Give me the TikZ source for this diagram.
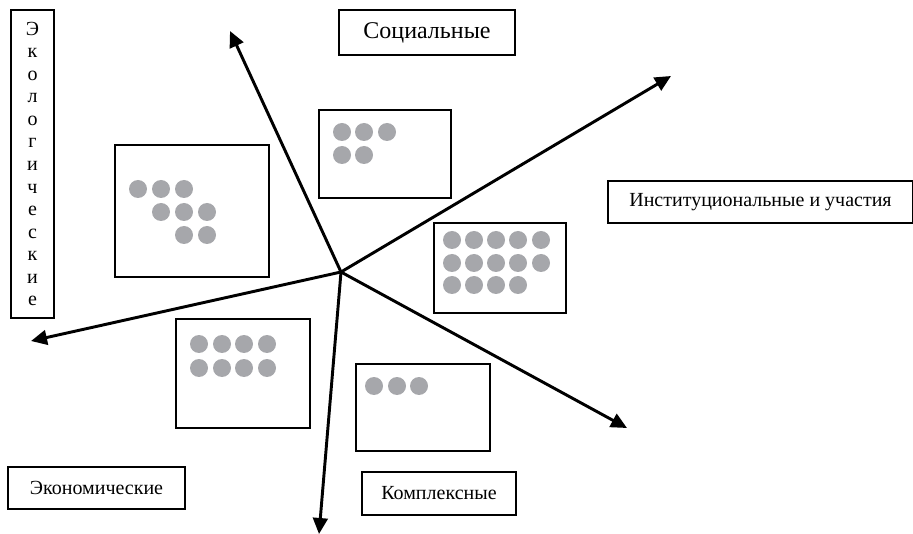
\documentclass[tikz,border=0pt]{standalone}
\usepackage{fontspec}
\setmainfont{Liberation Serif}
\usetikzlibrary{arrows.meta}
\definecolor{dotgray}{RGB}{166,167,171}
\tikzset{
  frame/.style={draw, line width=1.4pt, inner sep=0pt},
  label/.style={frame, font=\fontsize{15}{18}\selectfont},
  axis/.style={line width=2.2pt, -{Triangle[length=12pt,width=11pt]}},
  dot/.style={fill=dotgray}
}
\begin{document}
\begin{tikzpicture}[x=0.75pt,y=0.75pt,yscale=-1,xscale=1]
    \useasboundingbox (0,0) rectangle (913,534);

    %Shape: Rectangle [id:ecoLabel]
    \node [label, minimum width=32.25pt, minimum height=231pt, align=center, font=\fontsize{15}{16.9}\selectfont] (ecoLabel) at (32.5,164)
      {Э\\к\\о\\л\\о\\г\\и\\ч\\е\\с\\к\\и\\е};
    % Text Node
    \node [frame, minimum width=132pt, minimum height=33.75pt, font=\fontsize{18}{21}\selectfont] (socLabel) at (427,32.5) {Социальные};
    % Text Node
    \node [label, minimum width=228.75pt, minimum height=31.5pt] (instLabel) at (760.5,202) {Институциональные и участия};
    % Text Node
    \node [label, minimum width=132.75pt, minimum height=31.5pt] (econLabel) at (96.5,488) {Экономические};
    % Text Node
    \node [label, minimum width=115.5pt, minimum height=32.25pt] (komplLabel) at (439,493.5) {Комплексные};

    %Shape: Rectangle [id:dot boxes]
    \node [frame, minimum width=115.5pt, minimum height=99pt] (ecoBox) at (192,211) {};
    \node [frame, minimum width=99pt, minimum height=66pt] (socBox) at (385,154) {};
    \node [frame, minimum width=99pt, minimum height=67.5pt] (instBox) at (500,268) {};
    \node [frame, minimum width=100.5pt, minimum height=81.75pt] (econBox) at (243,373.5) {};
    \node [frame, minimum width=100.5pt, minimum height=65.25pt] (komplBox) at (423,407.5) {};

    %Shape: Circle [id:dots]
    \foreach \x/\y in {138/189,161/189,184/189,161/212,184/212,207/212,184/235,207/235}
      \fill [dot] (\x,\y) circle (6.75pt);
    \foreach \x/\y in {342/132,364/132,387/132,342/155,364/155}
      \fill [dot] (\x,\y) circle (6.75pt);
    \foreach \y in {240,263}
      \foreach \x in {452,474,496,518,541}
        \fill [dot] (\x,\y) circle (6.75pt);
    \foreach \x in {452,474,496,518}
      \fill [dot] (\x,285) circle (6.75pt);
    \foreach \y in {344,368}
      \foreach \x in {199,222,244,267}
        \fill [dot] (\x,\y) circle (6.75pt);
    \foreach \x in {374,397,419}
      \fill [dot] (\x,386) circle (6.75pt);

    %Straight Lines [id:axes]
    \coordinate (ctr) at (341,272);
    \coordinate (tipSoc) at (230,31);
    \coordinate (tipInst) at (671,76);
    \coordinate (tipEco) at (31,341);
    \coordinate (tipKompl) at (627,428);
    \coordinate (tipEcon) at (319,534);
    \foreach \t in {tipSoc,tipInst,tipEco,tipKompl,tipEcon}
      \draw [axis] (ctr) -- (\t);

\end{tikzpicture}
\end{document}
